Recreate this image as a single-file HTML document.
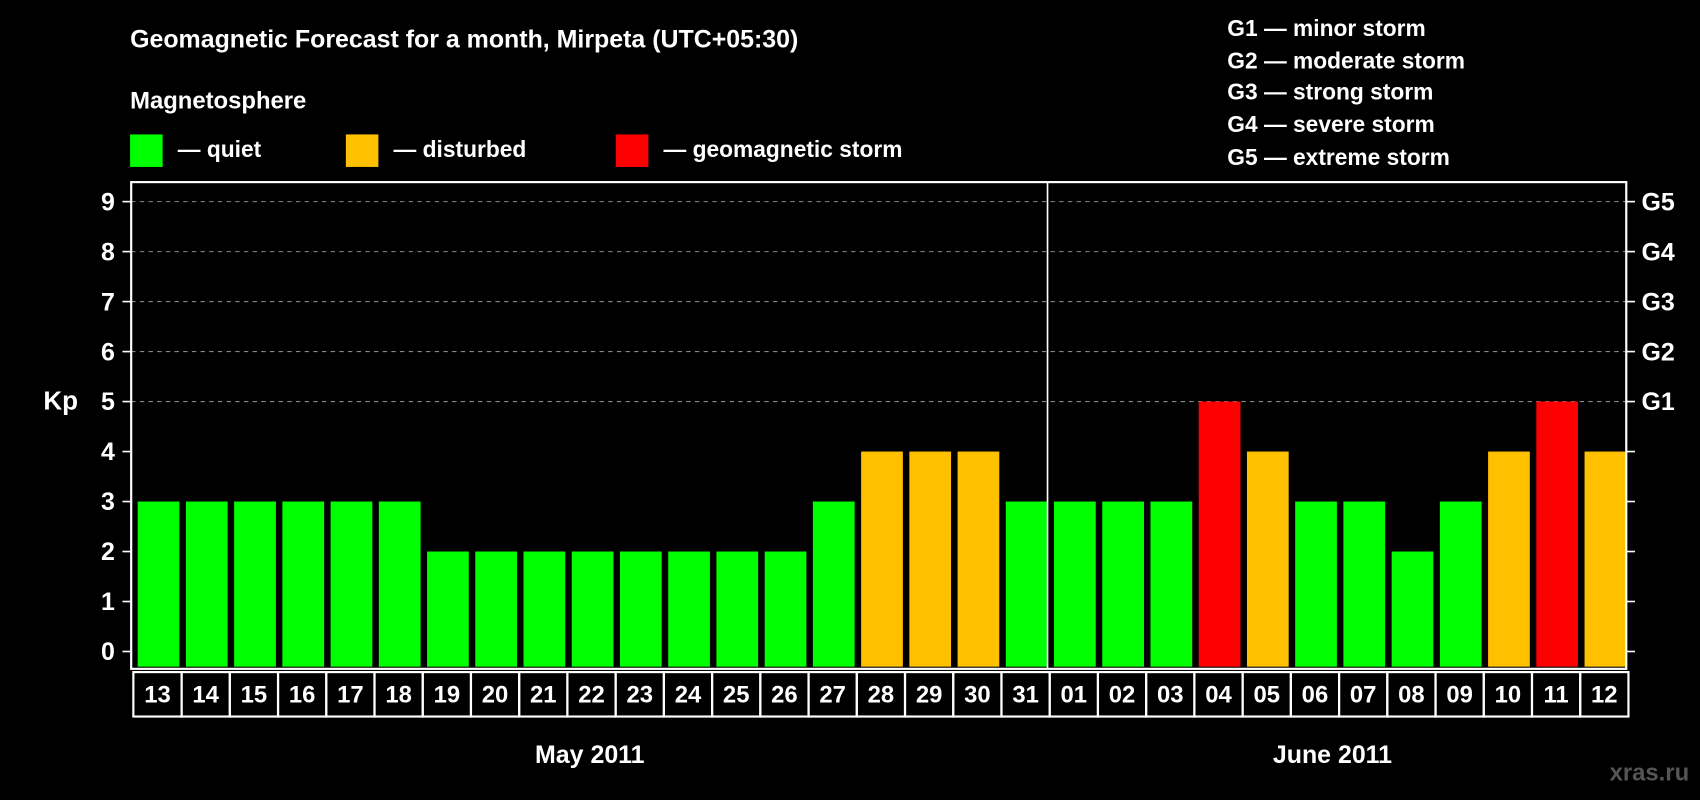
<!DOCTYPE html>
<html><head><meta charset="utf-8"><style>
html,body{margin:0;padding:0;background:#000;}
svg{display:block;}
text{font-family:"Liberation Sans",Arial,sans-serif;font-weight:bold;fill:#fff;}
</style></head><body>
<svg id="chart" width="1700" height="800" viewBox="0 0 1568 738" preserveAspectRatio="none" xmlns="http://www.w3.org/2000/svg">
<rect width="1568" height="738" fill="#000"/>
<text x="120" y="44" font-size="23">Geomagnetic Forecast for a month, Mirpeta (UTC+05:30)</text>
<text x="120" y="100" font-size="22">Magnetosphere</text>
<g><rect x="120" y="124" width="30" height="30" fill="#00ff00"/><text x="164" y="145" font-size="21">— quiet</text></g>
<g><rect x="319" y="124" width="30" height="30" fill="#ffc000"/><text x="363" y="145" font-size="21">— disturbed</text></g>
<g><rect x="568" y="124" width="30" height="30" fill="#ff0000"/><text x="612" y="145" font-size="21">— geomagnetic storm</text></g>
<g font-size="21">
<text x="1132" y="33">G1 — minor storm</text>
<text x="1132" y="63">G2 — moderate storm</text>
<text x="1132" y="92">G3 — strong storm</text>
<text x="1132" y="122">G4 — severe storm</text>
<text x="1132" y="152">G5 — extreme storm</text>
</g>
<text x="40" y="378" font-size="24">Kp</text>
<g id="grid"></g><g id="bars"></g><g id="axes"></g><g id="dates"></g>
<text x="544" y="704" font-size="23" text-anchor="middle">May 2011</text>
<text x="1229" y="704" font-size="23" text-anchor="middle">June 2011</text>
<text x="1558" y="720" font-size="22" text-anchor="end" fill="#555" style="fill:#555">xras.ru</text>
</svg>
<script>
const days = ["13","14","15","16","17","18","19","20","21","22","23","24","25","26","27","28","29","30","31","01","02","03","04","05","06","07","08","09","10","11","12"];
const kpValues = [3,3,3,3,3,3,2,2,2,2,2,2,2,2,3,4,4,4,3,3,3,3,5,4,3,3,2,3,4,5,4];
const yTicks = [0,1,2,3,4,5,6,7,8,9];
const stormLabels = ["","","","","","G1","G2","G3","G4","G5"];
const NS="http://www.w3.org/2000/svg";
const L=121,R=1500,T=168,B=617,Y0=601,Y9=186;
const slot=(R-L)/days.length;
function y(v){return Y0-(Y0-Y9)*v/9;}
function x(i){return L+i*slot;}
function mk(tag,attrs,parent){const e=document.createElementNS(NS,tag);for(const k in attrs)e.setAttribute(k,attrs[k]);parent.appendChild(e);return e;}
const grid=document.getElementById('grid'),bars=document.getElementById('bars'),axes=document.getElementById('axes'),dates=document.getElementById('dates');
yTicks.forEach((v,i)=>{
  if(v>=5){const g=mk('line',{x1:L,x2:R,y1:y(v),y2:y(v),stroke:'#888','stroke-width':1,'stroke-dasharray':'4,4'},grid);
  
  }
  const t1=mk('line',{x1:L-8,x2:L,y1:y(v),y2:y(v),stroke:'#fff','stroke-width':1.5},axes);
  
  
  const t2=mk('line',{x1:R,x2:R+8,y1:y(v),y2:y(v),stroke:'#fff','stroke-width':1.5},axes);
  
  
  const lb=mk('text',{x:106,y:y(v)+8,'font-size':23,'text-anchor':'end'},axes);lb.textContent=v;
  
  
  if(stormLabels[i]){const s=mk('text',{x:1514,y:y(v)+8,'font-size':23},axes);s.textContent=stormLabels[i];
  
  }
});
kpValues.forEach((v,i)=>{
  const c=v>=5?'#ff0000':(v>=4?'#ffc000':'#00ff00');
  const b=mk('rect',{x:x(i)+6,y:y(v),width:slot-6,height:B-2-y(v),fill:c},bars);
  
  
});
const frame=mk('rect',{x:L,y:T,width:R-L,height:B-T,fill:'none',stroke:'#fff','stroke-width':2},axes);


const split=days.indexOf("01");
const div=mk('line',{x1:x(split),x2:x(split),y1:T,y2:B,stroke:'#fff','stroke-width':1.5},axes);


days.forEach((d,i)=>{
  const r=mk('rect',{x:x(i)+2,y:620,width:slot,height:41,fill:'none',stroke:'#fff','stroke-width':2},dates);
  
  
  const t=mk('text',{x:x(i)+2+slot/2,y:648,'font-size':22,'text-anchor':'middle'},dates);t.textContent=d;
  
  
});
</script>
</body></html>
